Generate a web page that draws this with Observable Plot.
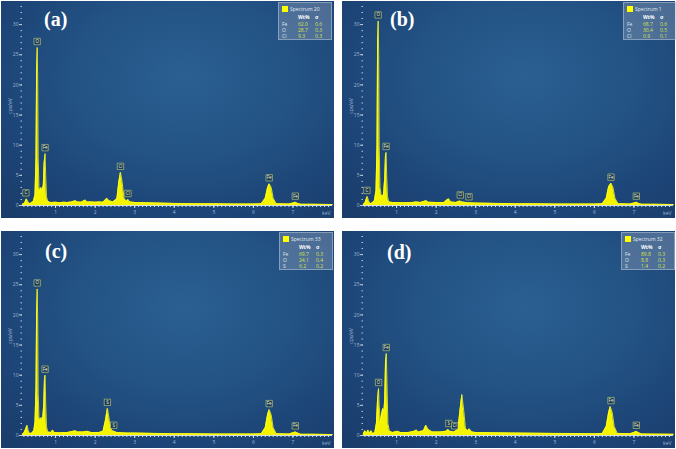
<!DOCTYPE html>
<html><head><meta charset="utf-8">
<script src="https://cdn.jsdelivr.net/npm/d3@7"></script>
<script src="https://cdn.jsdelivr.net/npm/@observablehq/plot@0.6"></script>
<style>
html,body{margin:0;padding:0;background:#fff;}
#wrap{position:relative;width:676px;height:449px;background:#fff;overflow:hidden;}
.panel{position:absolute;width:333px;height:217px;}
.panel svg{display:block;}
.plabel{position:absolute;font-family:"Liberation Serif","DejaVu Serif",serif;font-weight:bold;font-size:20px;line-height:20px;color:#fff;white-space:nowrap;}
.legend{position:absolute;width:54px;height:38px;background:rgba(140,160,185,0.42);border:0.5px solid rgba(190,205,220,0.5);box-sizing:border-box;font-family:"Open Sans",sans-serif;font-size:5px;line-height:5px;}
.legend span{position:absolute;white-space:nowrap;}
.sq{width:6px;height:6px;background:#ffff00;}
</style></head>
<body><div id="wrap"></div>
<script>
// ---- data ----
const panelLetters = ["(a)", "(b)", "(c)", "(d)"];
const spectrumNames = ["Spectrum 20", "Spectrum 1", "Spectrum 33", "Spectrum 32"];
const legendElements = [["Fe","O","Cl"], ["Fe","O","Cl"], ["Fe","O","S"], ["Fe","O","S"]];
const legendWt = [[62.0,28.7,9.3], [68.7,30.4,0.9], [69.7,24.1,6.2], [89.8,8.8,1.4]];
const legendSigma = [[0.6,0.3,0.3], [0.6,0.5,0.1], [0.3,0.4,0.2], [0.3,0.3,0.2]];
const xTicks = [1,2,3,4,5,6,7];
const yTicks = [0,5,10,15,20,25,30];

// spectra: [keV, cps/eV]
const spectrumA = [[0.16,0.2],[0.2,0.3],[0.23,0.6],[0.26,1.1],[0.29,0.8],[0.33,0.3],[0.38,0.4],[0.44,0.7],[0.48,1.8],[0.505,8],[0.52,22],[0.535,26.2],[0.548,21],[0.56,8],[0.58,3],[0.61,2.4],[0.63,3.0],[0.66,2.5],[0.69,3.4],[0.71,7],[0.735,8.6],[0.75,5],[0.77,1.5],[0.8,0.7],[0.85,0.55],[0.9,0.5],[1.0,0.55],[1.1,0.45],[1.2,0.55],[1.3,0.5],[1.4,0.6],[1.5,0.8],[1.55,0.6],[1.65,0.55],[1.75,0.9],[1.8,0.6],[1.9,0.6],[2.0,0.55],[2.1,0.6],[2.2,0.55],[2.3,1.2],[2.35,0.8],[2.45,0.6],[2.55,1.1],[2.6,4],[2.64,5.5],[2.68,4],[2.73,1.2],[2.79,0.7],[2.83,1.0],[2.88,0.6],[3.0,0.5],[3.3,0.45],[3.6,0.4],[4.0,0.35],[4.5,0.3],[5.0,0.3],[5.5,0.25],[6.0,0.25],[6.2,0.3],[6.3,1.2],[6.36,3],[6.4,3.6],[6.45,3],[6.5,1.2],[6.58,0.3],[6.9,0.25],[7.0,0.4],[7.06,0.55],[7.12,0.35],[7.2,0.2],[7.5,0.2],[8.0,0.15]];
const spectrumB = [[0.16,0.2],[0.2,0.4],[0.23,1.0],[0.26,1.5],[0.29,0.8],[0.33,0.3],[0.38,0.4],[0.44,0.8],[0.48,2.5],[0.505,10],[0.52,27],[0.535,30.6],[0.548,25],[0.56,10],[0.58,3],[0.61,1.8],[0.64,1.6],[0.67,1.8],[0.7,4.5],[0.72,8.4],[0.735,8.8],[0.75,5],[0.77,1.5],[0.8,0.6],[0.9,0.5],[1.0,0.5],[1.2,0.45],[1.4,0.5],[1.5,0.6],[1.6,0.5],[1.75,0.8],[1.8,0.55],[2.0,0.5],[2.2,0.5],[2.27,0.9],[2.32,1.1],[2.37,0.6],[2.5,0.5],[2.6,0.75],[2.65,0.6],[2.8,0.45],[3.0,0.4],[3.5,0.35],[4.0,0.3],[4.5,0.3],[5.0,0.25],[5.5,0.25],[6.0,0.25],[6.2,0.3],[6.3,1.2],[6.36,3.1],[6.42,3.7],[6.47,3],[6.52,1.2],[6.6,0.3],[6.9,0.25],[7.0,0.4],[7.06,0.55],[7.12,0.35],[7.2,0.2],[7.5,0.2],[8.0,0.15]];
const spectrumC = [[0.16,0.2],[0.2,0.4],[0.24,1.0],[0.28,1.7],[0.31,0.8],[0.35,0.3],[0.4,0.4],[0.45,0.8],[0.48,2.2],[0.505,8],[0.52,20],[0.535,24.3],[0.548,19],[0.56,7],[0.58,3],[0.61,2.5],[0.64,3.0],[0.67,2.5],[0.7,5],[0.72,9.5],[0.735,10],[0.75,5.5],[0.77,1.5],[0.8,0.6],[0.88,0.5],[0.93,0.9],[0.97,0.5],[1.1,0.45],[1.3,0.5],[1.45,0.7],[1.5,0.8],[1.55,0.6],[1.7,0.6],[1.8,0.7],[1.9,0.5],[2.1,0.5],[2.2,0.7],[2.26,2.5],[2.31,4.5],[2.36,2.5],[2.42,0.8],[2.47,0.7],[2.55,0.5],[2.8,0.4],[3.0,0.4],[3.5,0.35],[4.0,0.3],[4.5,0.3],[5.0,0.25],[5.5,0.25],[6.0,0.25],[6.2,0.3],[6.3,1.3],[6.36,3.5],[6.4,4.3],[6.45,3.4],[6.5,1.3],[6.58,0.3],[6.9,0.25],[7.0,0.45],[7.06,0.6],[7.12,0.4],[7.2,0.2],[7.5,0.2],[8.0,0.15]];
const spectrumD = [[0.16,0.3],[0.2,0.8],[0.24,0.4],[0.28,0.9],[0.32,0.4],[0.36,0.8],[0.4,0.3],[0.45,0.5],[0.49,2],[0.52,6],[0.545,7.8],[0.56,5],[0.59,2.2],[0.62,3.5],[0.65,4.5],[0.68,4],[0.7,6],[0.72,12],[0.74,13.6],[0.76,8],[0.78,2],[0.82,0.7],[0.9,0.5],[1.02,0.7],[1.1,0.5],[1.3,0.5],[1.45,0.7],[1.5,0.9],[1.55,0.6],[1.68,0.8],[1.74,1.7],[1.8,1.0],[1.9,0.6],[2.1,0.6],[2.25,0.7],[2.3,1.0],[2.35,0.7],[2.45,0.6],[2.55,1.0],[2.6,4],[2.65,6.8],[2.7,4],[2.74,1.2],[2.8,0.8],[2.84,1.1],[2.9,0.6],[3.0,0.5],[3.5,0.45],[4.0,0.4],[5.0,0.35],[6.0,0.3],[6.2,0.35],[6.3,1.5],[6.36,3.8],[6.4,4.8],[6.45,3.8],[6.5,1.5],[6.58,0.35],[6.9,0.3],[7.0,0.5],[7.06,0.7],[7.12,0.45],[7.2,0.25],[8.0,0.2]];

// peak labels: [element, keV, cps/eV]
const peaksA = [["C",0.25,1.1],["O",0.535,26.2],["Fe",0.735,8.6],["Cl",2.64,5.5],["Cl",2.83,1.0],["Fe",6.4,3.6],["Fe",7.06,0.55]];
const peaksB = [["C",0.25,1.5],["O",0.535,30.6],["Fe",0.735,8.8],["Cl",2.61,0.75],["Cl",2.83,0.45],["Fe",6.42,3.7],["Fe",7.06,0.55]];
const peaksC = [["O",0.535,24.3],["Fe",0.735,10],["S",2.31,4.5],["S",2.47,0.7],["Fe",6.4,4.3],["Fe",7.06,0.6]];
const peaksD = [["O",0.545,7.8],["Fe",0.74,13.6],["S",2.32,1.0],["Cl",2.47,0.6],["Fe",6.42,4.8],["Fe",7.06,0.7]];

const spectra = [spectrumA, spectrumB, spectrumC, spectrumD];
const peaks = [peaksA, peaksB, peaksC, peaksD];

// ---- layout ----
const panelPos = [[1,1],[342,1],[1,231],[342,231]];
const letterPos = [[43,8],[48,8],[44,10],[45,11]];
const legendPos = [[277,1],[281,1],[278,1],[279,1]];

const wrap = document.getElementById("wrap");
const bg = "radial-gradient(ellipse 75% 85% at 55% 35%, #2b5f92 0%, #245486 40%, #1d4577 75%, #1a3d6c 100%)";
const minorX = d3.range(2, 80).map(i => i / 10);
const minorY = d3.range(0, 34);

for (let p = 0; p < 4; p++) {
  const data = spectra[p].map(([e, c]) => ({e, c}));
  const lab = peaks[p].map(([el, e, c]) => ({el, e, c}));
  const div = document.createElement("div");
  div.className = "panel";
  div.style.left = panelPos[p][0] + "px";
  div.style.top = panelPos[p][1] + "px";
  const chart = Plot.plot({
    width: 333, height: 217,
    marginLeft: 21, marginRight: 2, marginTop: 5, marginBottom: 13,
    x: {domain: [0.164, 8.0]},
    y: {domain: [0, 33]},
    style: {background: bg, color: "#9fb8d2", fontSize: "5px", fontFamily: "Open Sans, sans-serif"},
    marks: [
      Plot.areaY(data, {x: "e", y: "c", fill: "#f4f400", curve: "linear"}),
      Plot.lineY(data, {x: "e", y: "c", stroke: "#ffff20", strokeWidth: 0.8, curve: "linear"}),
      Plot.ruleY([0], {stroke: "#cdd8e4", strokeWidth: 1}),
      Plot.axisY({ticks: yTicks, tickSize: 3, tickPadding: 1, label: "cps/eV", labelAnchor: "center", labelArrow: "none", labelOffset: 14, stroke: "#b8c9dc"}),
      Plot.axisY({ticks: minorY, tickSize: 1.5, text: null, label: null, stroke: "#b8c9dc"}),
      Plot.axisX({ticks: xTicks, tickSize: 3, tickPadding: 1.5, label: null, stroke: "#d8e2ec"}),
      Plot.axisX({ticks: minorX, tickSize: 2, text: null, label: null, stroke: "#d8e2ec"}),
      Plot.dot(lab, {x: "e", y: "c", dy: -6, symbol: "square", r: 3.6, fill: "#1c3b58", stroke: "#c9d87a", strokeWidth: 0.6}),
      Plot.text(lab, {x: "e", y: "c", text: "el", dy: -6, fill: "#f2f2d8", fontSize: 4.5}),
      Plot.text(["keV"], {frameAnchor: "bottom-right", dy: 9, dx: -2, fill: "#9fb8d2", fontSize: 5})
    ]
  });
  div.appendChild(chart);

  const L = document.createElement("div");
  L.className = "plabel";
  L.textContent = panelLetters[p];
  L.style.left = letterPos[p][0] + "px";
  L.style.top = letterPos[p][1] + "px";
  div.appendChild(L);

  const G = document.createElement("div");
  G.className = "legend";
  G.style.left = legendPos[p][0] + "px";
  G.style.top = legendPos[p][1] + "px";
  let html = `<span class="sq" style="left:3px;top:3px"></span>`;
  html += `<span style="left:11px;top:3.5px;color:#e4ebf2">${spectrumNames[p]}</span>`;
  html += `<span style="left:19px;top:11.5px;color:#fff;font-weight:bold">Wt%</span>`;
  html += `<span style="left:36px;top:11.5px;color:#fff;font-weight:bold">σ</span>`;
  for (let r = 0; r < 3; r++) {
    const ty = 18.5 + r * 6;
    html += `<span style="left:3px;top:${ty}px;color:#dfe6ee">${legendElements[p][r]}</span>`;
    html += `<span style="left:19px;top:${ty}px;color:#d6e24a">${legendWt[p][r].toFixed(1)}</span>`;
    html += `<span style="left:36px;top:${ty}px;color:#d6e24a">${legendSigma[p][r].toFixed(1)}</span>`;
  }
  G.innerHTML = html;
  div.appendChild(G);
  wrap.appendChild(div);
}
</script></body></html>
